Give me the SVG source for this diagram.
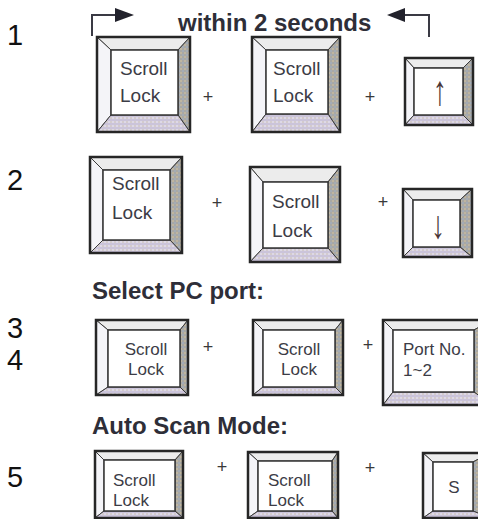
<svg xmlns="http://www.w3.org/2000/svg" width="478" height="519" viewBox="0 0 478 519">
<defs>
<pattern id="dotR" width="4" height="4" patternUnits="userSpaceOnUse"><rect width="4" height="4" fill="#a9a8a4"/><circle cx="1" cy="1" r="0.8" fill="#d9c79c"/><circle cx="3" cy="3" r="0.8" fill="#9db2cc"/></pattern>
<pattern id="dotB" width="4" height="4" patternUnits="userSpaceOnUse"><rect width="4" height="4" fill="#cbc4da"/><circle cx="1" cy="2" r="0.8" fill="#f4f2f8"/><circle cx="3" cy="2" r="0.7" fill="#e3d7b8"/></pattern>
<style>
.num{font-family:"Liberation Sans",Arial,sans-serif;font-size:29px;fill:#111}
.head{font-family:"Liberation Sans",Arial,sans-serif;font-size:24px;font-weight:bold;fill:#2e2e38}
.key{font-family:"Liberation Sans",Arial,sans-serif;font-size:19px;fill:#3c3c46}
.ks{font-size:17px}
.plus{font-family:"Liberation Sans",Arial,sans-serif;font-size:18px;fill:#3a3a3a;text-anchor:middle}
.arr{font-family:"Liberation Sans",Arial,sans-serif;font-size:28px;fill:#4a3636;text-anchor:middle}
.mid{text-anchor:middle}
.bv{stroke:#3a3a3a;stroke-width:1;stroke-linejoin:round}
.t{fill:#ececec}.l{fill:#f4f4f8}.r{fill:url(#dotR)}.b{fill:url(#dotB)}
.face{fill:#fff;stroke:#333;stroke-width:1.5}
.outer{fill:none;stroke:#262626;stroke-width:2.5}
.ln{fill:none;stroke:#3a3a44;stroke-width:2}
.ah{fill:#22222c}
</style>
</defs>
<rect width="478" height="519" fill="#fff"/>

<g id="labels">
<text class="num" x="7" y="45">1</text>
<text class="num" x="7" y="190">2</text>
<text class="num" x="7" y="338">3</text>
<text class="num" x="7" y="370">4</text>
<text class="num" x="7" y="487">5</text>
<text class="head" x="178" y="31">within 2 seconds</text>
<text class="head" x="92" y="299">Select PC port:</text>
<text class="head" x="92" y="434">Auto Scan Mode:</text>
</g>

<g id="connectors">
<path class="ln" d="M92,36 V15 H117"/>
<polygon class="ah" points="115,8 134,15 115,22"/>
<path class="ln" d="M403,15 H429 V37"/>
<polygon class="ah" points="405,8 387,15 405,22"/>
<text class="plus" x="208" y="103">+</text>
<text class="plus" x="370" y="103">+</text>
<text class="plus" x="217" y="209">+</text>
<text class="plus" x="383" y="208">+</text>
<text class="plus" x="208" y="353">+</text>
<text class="plus" x="368" y="351">+</text>
<text class="plus" x="222" y="473">+</text>
<text class="plus" x="370" y="474">+</text>
</g>

<!-- Row 1 -->
<g id="k1a">
<polygon class="bv t" points="97,37 190,37 178,50 111,50"/>
<polygon class="bv l" points="97,37 111,50 111,115 97,132"/>
<polygon class="bv r" points="190,37 190,132 178,115 178,50"/>
<polygon class="bv b" points="97,132 111,115 178,115 190,132"/>
<rect class="face" x="111" y="50" width="67" height="65"/>
<rect class="outer" x="97" y="37" width="93" height="95"/>
<text class="key" x="120" y="75">Scroll</text>
<text class="key" x="120" y="102">Lock</text>
</g>
<g id="k1b">
<polygon class="bv t" points="252,37 340,37 328,50 266,50"/>
<polygon class="bv l" points="252,37 266,50 266,114 252,132"/>
<polygon class="bv r" points="340,37 340,132 328,114 328,50"/>
<polygon class="bv b" points="252,132 266,114 328,114 340,132"/>
<rect class="face" x="266" y="50" width="62" height="64"/>
<rect class="outer" x="252" y="37" width="88" height="95"/>
<text class="key" x="273" y="75">Scroll</text>
<text class="key" x="273" y="102">Lock</text>
</g>
<g id="k1c">
<polygon class="bv t" points="405,58 473,58 463,68 414,68"/>
<polygon class="bv l" points="405,58 414,68 414,115 405,125"/>
<polygon class="bv r" points="473,58 473,125 463,115 463,68"/>
<polygon class="bv b" points="405,125 414,115 463,115 473,125"/>
<rect class="face" x="414" y="68" width="49" height="47"/>
<rect class="outer" x="405" y="58" width="68" height="67"/>
<text class="arr" transform="translate(440,105) scale(1,1.5)">↑</text>
</g>

<!-- Row 2 -->
<g id="k2a">
<polygon class="bv t" points="90,157 182,157 170,170 103,170"/>
<polygon class="bv l" points="90,157 103,170 103,240 90,253"/>
<polygon class="bv r" points="182,157 182,253 170,240 170,170"/>
<polygon class="bv b" points="90,253 103,240 170,240 182,253"/>
<rect class="face" x="103" y="170" width="67" height="70"/>
<rect class="outer" x="90" y="157" width="92" height="96"/>
<text class="key" x="112" y="190">Scroll</text>
<text class="key" x="112" y="219">Lock</text>
</g>
<g id="k2b">
<polygon class="bv t" points="250,167 340,167 328,182 263,182"/>
<polygon class="bv l" points="250,167 263,182 263,248 250,262"/>
<polygon class="bv r" points="340,167 340,262 328,248 328,182"/>
<polygon class="bv b" points="250,262 263,248 328,248 340,262"/>
<rect class="face" x="263" y="182" width="65" height="66"/>
<rect class="outer" x="250" y="167" width="90" height="95"/>
<text class="key" x="272" y="208">Scroll</text>
<text class="key" x="272" y="237">Lock</text>
</g>
<g id="k2c">
<polygon class="bv t" points="403,189 472,189 460,200 413,200"/>
<polygon class="bv l" points="403,189 413,200 413,247 403,257"/>
<polygon class="bv r" points="472,189 472,257 460,247 460,200"/>
<polygon class="bv b" points="403,257 413,247 460,247 472,257"/>
<rect class="face" x="413" y="200" width="47" height="47"/>
<rect class="outer" x="403" y="189" width="69" height="68"/>
<text class="arr" transform="translate(438,238) scale(1,1.4)">↓</text>
</g>

<!-- Row 3/4 -->
<g id="k3a">
<polygon class="bv t" points="96,320 188,320 180,330 108,330"/>
<polygon class="bv l" points="96,320 108,330 108,387 96,395"/>
<polygon class="bv r" points="188,320 188,395 180,387 180,330"/>
<polygon class="bv b" points="96,395 108,387 180,387 188,395"/>
<rect class="face" x="108" y="330" width="72" height="57"/>
<rect class="outer" x="96" y="320" width="92" height="75"/>
<text class="key ks mid" x="146" y="355">Scroll</text>
<text class="key ks mid" x="146" y="375">Lock</text>
</g>
<g id="k3b">
<polygon class="bv t" points="253,320 343,320 335,330 263,330"/>
<polygon class="bv l" points="253,320 263,330 263,387 253,395"/>
<polygon class="bv r" points="343,320 343,395 335,387 335,330"/>
<polygon class="bv b" points="253,395 263,387 335,387 343,395"/>
<rect class="face" x="263" y="330" width="72" height="57"/>
<rect class="outer" x="253" y="320" width="90" height="75"/>
<text class="key ks mid" x="299" y="355">Scroll</text>
<text class="key ks mid" x="299" y="375">Lock</text>
</g>
<g id="k3c">
<polygon class="bv t" points="383,320 492,320 474,330 393,330"/>
<polygon class="bv l" points="383,320 393,330 393,392 383,405"/>
<polygon class="bv r" points="492,320 492,405 474,392 474,330"/>
<polygon class="bv b" points="383,405 393,392 474,392 492,405"/>
<rect class="face" x="393" y="330" width="81" height="62"/>
<rect class="outer" x="383" y="320" width="109" height="85"/>
<text class="key ks" x="403" y="355">Port No.</text>
<text class="key ks" x="403" y="376">1~2</text>
</g>

<!-- Row 5 -->
<g id="k5a">
<polygon class="bv t" points="95,451 183,451 175,460 104,460"/>
<polygon class="bv l" points="95,451 104,460 104,511 95,518"/>
<polygon class="bv r" points="183,451 183,518 175,511 175,460"/>
<polygon class="bv b" points="95,518 104,511 175,511 183,518"/>
<rect class="face" x="104" y="460" width="71" height="51"/>
<rect class="outer" x="95" y="451" width="88" height="67"/>
<text class="key ks" x="113" y="486">Scroll</text>
<text class="key ks" x="113" y="506">Lock</text>
</g>
<g id="k5b">
<polygon class="bv t" points="248,452 338,452 332,461 258,461"/>
<polygon class="bv l" points="248,452 258,461 258,511 248,518"/>
<polygon class="bv r" points="338,452 338,518 332,511 332,461"/>
<polygon class="bv b" points="248,518 258,511 332,511 338,518"/>
<rect class="face" x="258" y="461" width="74" height="50"/>
<rect class="outer" x="248" y="452" width="90" height="66"/>
<text class="key ks" x="268" y="486">Scroll</text>
<text class="key ks" x="268" y="506">Lock</text>
</g>
<g id="k5c">
<polygon class="bv t" points="423,453 490,453 473,462 433,462"/>
<polygon class="bv l" points="423,453 433,462 433,511 423,518"/>
<polygon class="bv r" points="490,453 490,518 473,511 473,462"/>
<polygon class="bv b" points="423,518 433,511 473,511 490,518"/>
<rect class="face" x="433" y="462" width="40" height="49"/>
<rect class="outer" x="423" y="453" width="67" height="65"/>
<text class="key ks mid" x="454" y="493">S</text>
</g>
</svg>
